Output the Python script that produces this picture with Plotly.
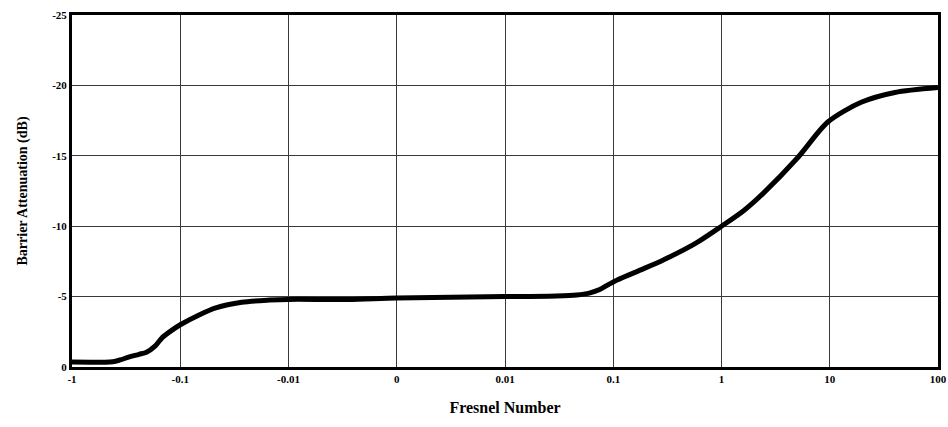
import numpy as np
import plotly.graph_objects as go

# Fresnel number tick values and their labels
tick_values = [-1, -0.1, -0.01, 0, 0.01, 0.1, 1, 10, 100]
tick_labels = ["-1", "-0.1", "-0.01", "0", "0.01", "0.1", "1", "10", "100"]

# Barrier attenuation curve: Fresnel number vs attenuation (dB)
fresnel = [-1, -0.42, -0.36, -0.3, -0.24, -0.205, -0.17, -0.146, -0.12, -0.1,
           -0.067, -0.047, -0.027, -0.015, -0.01, -0.0045, 0, 0.01, 0.03,
           0.046, 0.06, 0.075, 0.09, 0.11, 0.18, 0.29, 0.58, 1.0, 1.6, 2.4,
           5.1, 9.6, 19.5, 40, 100]
attenuation = [-0.35, -0.38, -0.5, -0.7, -0.9, -1.05, -1.5, -2.1, -2.6, -3.0,
               -3.7, -4.2, -4.6, -4.75, -4.8, -4.8, -4.9, -5.0, -5.05,
               -5.12, -5.25, -5.5, -5.85, -6.2, -6.9, -7.6, -8.8, -10.0, -11.1,
               -12.3, -14.9, -17.4, -18.8, -19.5, -19.85]

y_ticks = [-25, -20, -15, -10, -5, 0]


def axis_pos(n):
    """Map a Fresnel number onto the chart's piecewise log/linear axis."""
    n = np.asarray(n, dtype=float)
    out = np.empty_like(n)
    neg = n <= -0.01
    pos = n >= 0.01
    mid = ~(neg | pos)
    out[neg] = -np.log10(-n[neg])
    out[pos] = np.log10(n[pos]) + 6
    out[mid] = n[mid] / 0.01 + 3
    return out


fig = go.Figure()
fig.add_trace(go.Scatter(
    x=axis_pos(fresnel), y=attenuation, mode="lines",
    line=dict(color="black", width=5, shape="spline", smoothing=0.8),
    hoverinfo="skip", showlegend=False,
))

font_family = "Liberation Serif, Times New Roman, serif"
tick_font = dict(family=font_family, size=11, color="black", weight="bold")

fig.update_layout(
    width=948, height=427,
    margin=dict(l=72, r=10, t=15, b=60, autoexpand=False),
    paper_bgcolor="white", plot_bgcolor="white",
    font=dict(family=font_family, color="black", size=11),
    xaxis=dict(
        range=[0, 8], tickmode="array",
        tickvals=list(axis_pos(tick_values)), ticktext=tick_labels,
        ticklabeloverflow="allow",
        showgrid=True, gridcolor="#3a3a3a", gridwidth=1.3,
        showline=True, linecolor="black", linewidth=3, mirror=True,
        zeroline=False, ticks="", ticklen=0,
        tickfont=tick_font,
        title=dict(text="<b>Fresnel Number</b>",
                   font=dict(family=font_family, size=16, color="black"),
                   standoff=18),
    ),
    yaxis=dict(
        range=[0, -25], tickmode="array", tickvals=y_ticks,
        ticktext=[str(v) for v in y_ticks],
        showgrid=True, gridcolor="#3a3a3a", gridwidth=1.3,
        showline=True, linecolor="black", linewidth=3, mirror=True,
        zeroline=False, ticks="", ticklen=0,
        tickfont=tick_font,
        title=dict(text="<b>Barrier Attenuation (dB)</b>",
                   font=dict(family=font_family, size=14, color="black"),
                   standoff=22),
    ),
)

fig.write_html("out.html")
